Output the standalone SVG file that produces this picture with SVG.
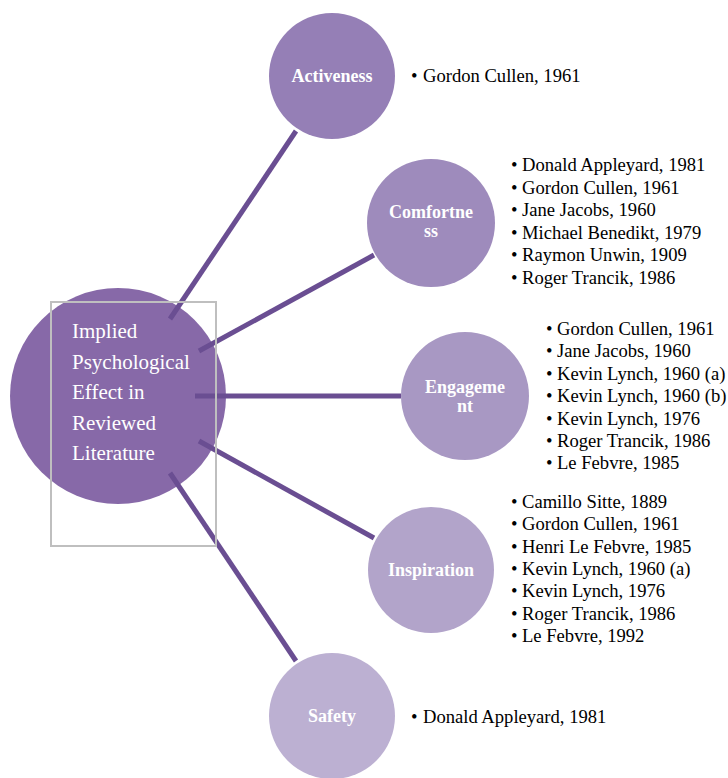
<svg xmlns="http://www.w3.org/2000/svg" width="728" height="778" viewBox="0 0 728 778">
<style>
.lbl{font-family:"Liberation Serif","Times New Roman",serif;font-size:18px;font-weight:bold;fill:#ffffff;text-anchor:middle}
.lst{font-family:"Liberation Serif","Times New Roman",serif;font-size:18.6px;fill:#000000}
.ctr{font-family:"Liberation Serif","Times New Roman",serif;font-size:21px;fill:#ffffff}
.con{stroke:#6a4e92;stroke-width:5;fill:none}
</style>
<rect width="728" height="778" fill="#ffffff"/>
<g id="center">
<circle cx="118" cy="396" r="108" fill="#8769a8"/>
</g>
<g id="connectors">
<line class="con" x1="170" y1="319" x2="296" y2="131"/>
<line class="con" x1="199" y1="351" x2="374" y2="255"/>
<line class="con" x1="195" y1="396" x2="401" y2="396"/>
<line class="con" x1="199" y1="441" x2="374" y2="538"/>
<line class="con" x1="170" y1="473" x2="296" y2="661"/>
</g>
<g id="center-label">
<rect x="51" y="302" width="165" height="244" fill="none" stroke="#bfbfbf" stroke-width="2"/>
<text class="ctr" x="72" y="338">Implied</text>
<text class="ctr" x="72" y="368.5">Psychological</text>
<text class="ctr" x="72" y="399">Effect in</text>
<text class="ctr" x="72" y="429.5">Reviewed</text>
<text class="ctr" x="72" y="460">Literature</text>
</g>
<g id="activeness">
<circle cx="332" cy="76" r="63" fill="#957fb6"/>
<text class="lbl" x="332" y="82">Activeness</text>
<text class="lst" y="82"><tspan x="411">•</tspan><tspan x="423">Gordon Cullen, 1961</tspan></text>
</g>
<g id="comfortness">
<circle cx="431" cy="223" r="64" fill="#9e8bbc"/>
<text class="lbl" x="431" y="218">Comfortne</text>
<text class="lbl" x="431" y="237">ss</text>
<text class="lst"><tspan x="511" y="171">•</tspan><tspan x="522" y="171">Donald Appleyard, 1981</tspan><tspan x="511" y="193.6">•</tspan><tspan x="522" y="193.6">Gordon Cullen, 1961</tspan><tspan x="511" y="216.2">•</tspan><tspan x="522" y="216.2">Jane Jacobs, 1960</tspan><tspan x="511" y="238.8">•</tspan><tspan x="522" y="238.8">Michael Benedikt, 1979</tspan><tspan x="511" y="261.4">•</tspan><tspan x="522" y="261.4">Raymon Unwin, 1909</tspan><tspan x="511" y="284">•</tspan><tspan x="522" y="284">Roger Trancik, 1986</tspan></text>
</g>
<g id="engagement">
<circle cx="465" cy="396" r="64" fill="#a898c3"/>
<text class="lbl" x="465" y="393">Engageme</text>
<text class="lbl" x="465" y="412">nt</text>
<text class="lst"><tspan x="546" y="335">•</tspan><tspan x="557" y="335">Gordon Cullen, 1961</tspan><tspan x="546" y="357.4">•</tspan><tspan x="557" y="357.4">Jane Jacobs, 1960</tspan><tspan x="546" y="379.8">•</tspan><tspan x="557" y="379.8">Kevin Lynch, 1960 (a)</tspan><tspan x="546" y="402.2">•</tspan><tspan x="557" y="402.2">Kevin Lynch, 1960 (b)</tspan><tspan x="546" y="424.6">•</tspan><tspan x="557" y="424.6">Kevin Lynch, 1976</tspan><tspan x="546" y="447">•</tspan><tspan x="557" y="447">Roger Trancik, 1986</tspan><tspan x="546" y="469.4">•</tspan><tspan x="557" y="469.4">Le Febvre, 1985</tspan></text>
</g>
<g id="inspiration">
<circle cx="431" cy="570" r="63" fill="#b2a4ca"/>
<text class="lbl" x="431" y="576">Inspiration</text>
<text class="lst"><tspan x="511" y="508">•</tspan><tspan x="522" y="508">Camillo Sitte, 1889</tspan><tspan x="511" y="530.3">•</tspan><tspan x="522" y="530.3">Gordon Cullen, 1961</tspan><tspan x="511" y="552.6">•</tspan><tspan x="522" y="552.6">Henri Le Febvre, 1985</tspan><tspan x="511" y="574.9">•</tspan><tspan x="522" y="574.9">Kevin Lynch, 1960 (a)</tspan><tspan x="511" y="597.2">•</tspan><tspan x="522" y="597.2">Kevin Lynch, 1976</tspan><tspan x="511" y="619.5">•</tspan><tspan x="522" y="619.5">Roger Trancik, 1986</tspan><tspan x="511" y="641.8">•</tspan><tspan x="522" y="641.8">Le Febvre, 1992</tspan></text>
</g>
<g id="safety">
<circle cx="332" cy="716" r="63" fill="#bcb0d2"/>
<text class="lbl" x="332" y="722">Safety</text>
<text class="lst" y="723"><tspan x="411">•</tspan><tspan x="423">Donald Appleyard, 1981</tspan></text>
</g>
</svg>
